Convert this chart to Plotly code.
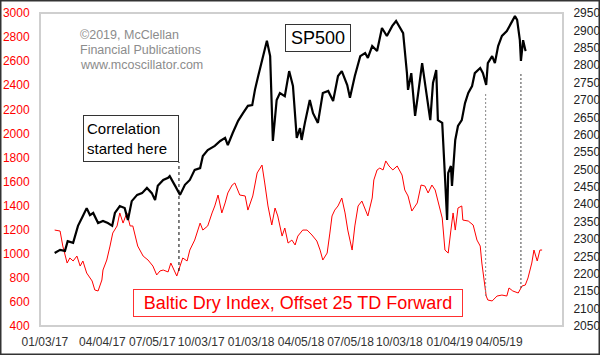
import plotly.graph_objects as go

# ---------------- data ----------------
sp_dates = ["2017-01-06","2017-01-16","2017-01-25","2017-01-30","2017-02-09","2017-02-18","2017-02-27","2017-03-06","2017-03-12","2017-03-18","2017-03-27","2017-04-05","2017-04-14","2017-04-22","2017-04-27","2017-05-06","2017-05-15","2017-05-21","2017-05-28","2017-06-07","2017-06-16","2017-06-25","2017-07-04","2017-07-10","2017-07-15","2017-07-25","2017-08-03","2017-08-06","2017-08-16","2017-08-25","2017-09-03","2017-09-12","2017-09-21","2017-10-01","2017-10-06","2017-10-15","2017-10-28","2017-11-07","2017-11-16","2017-11-21","2017-11-30","2017-12-10","2017-12-19","2017-12-28","2018-01-05","2018-01-10","2018-01-16","2018-01-25","2018-02-01","2018-02-07","2018-02-10","2018-02-12","2018-02-19","2018-02-25","2018-03-06","2018-03-14","2018-03-21","2018-03-28","2018-04-03","2018-04-06","2018-04-12","2018-04-21","2018-04-27","2018-05-06","2018-05-15","2018-05-25","2018-06-03","2018-06-12","2018-06-19","2018-06-29","2018-07-04","2018-07-13","2018-07-23","2018-08-01","2018-08-06","2018-08-14","2018-08-23","2018-09-01","2018-09-10","2018-09-20","2018-09-27","2018-10-04","2018-10-10","2018-10-17","2018-10-19","2018-10-25","2018-11-01","2018-11-06","2018-11-14","2018-11-21","2018-11-29","2018-12-04","2018-12-10","2018-12-13","2018-12-21","2018-12-26","2018-12-30","2019-01-01","2019-01-06","2019-01-08","2019-01-14","2019-01-19","2019-01-26","2019-02-01","2019-02-07","2019-02-14","2019-02-19","2019-03-01","2019-03-06","2019-03-12","2019-03-15","2019-03-23","2019-03-28","2019-04-03","2019-04-10","2019-04-19","2019-04-29","2019-05-04","2019-05-08","2019-05-13","2019-05-15","2019-05-19","2019-05-23","2019-05-24"]
sp_values = [2260,2269,2266,2294,2289,2338,2366,2389,2369,2375,2346,2352,2346,2338,2375,2395,2389,2355,2409,2427,2432,2447,2432,2412,2453,2470,2476,2481,2453,2427,2456,2470,2499,2504,2539,2556,2568,2582,2591,2570,2605,2640,2662,2683,2685,2729,2769,2826,2870,2826,2711,2582,2700,2720,2711,2783,2740,2591,2619,2585,2634,2700,2662,2634,2720,2726,2697,2769,2783,2743,2706,2769,2826,2835,2821,2855,2841,2907,2884,2913,2927,2907,2892,2777,2729,2777,2654,2711,2806,2729,2642,2749,2786,2642,2634,2481,2355,2490,2510,2453,2585,2625,2642,2691,2720,2740,2777,2792,2777,2743,2806,2826,2806,2855,2884,2898,2927,2941,2930,2872,2812,2872,2844,2841]

bdi_dates = ["2017-01-06","2017-01-16","2017-01-21","2017-01-29","2017-02-03","2017-02-09","2017-02-16","2017-02-22","2017-02-27","2017-03-06","2017-03-16","2017-03-21","2017-03-27","2017-04-03","2017-04-05","2017-04-12","2017-04-18","2017-04-23","2017-05-01","2017-05-06","2017-05-12","2017-05-19","2017-05-25","2017-05-30","2017-06-08","2017-06-18","2017-06-27","2017-07-06","2017-07-13","2017-07-19","2017-07-25","2017-08-03","2017-08-08","2017-08-14","2017-08-19","2017-08-25","2017-08-30","2017-09-07","2017-09-12","2017-09-21","2017-10-01","2017-10-06","2017-10-15","2017-10-23","2017-10-28","2017-11-03","2017-11-10","2017-11-16","2017-11-21","2017-11-29","2017-12-04","2017-12-13","2017-12-23","2017-12-28","2018-01-06","2018-01-14","2018-01-23","2018-01-28","2018-02-03","2018-02-10","2018-02-16","2018-02-21","2018-03-01","2018-03-06","2018-03-12","2018-03-19","2018-03-25","2018-03-30","2018-04-08","2018-04-16","2018-04-25","2018-05-04","2018-05-10","2018-05-15","2018-05-23","2018-05-28","2018-06-01","2018-06-06","2018-06-12","2018-06-19","2018-06-25","2018-06-30","2018-07-08","2018-07-13","2018-07-19","2018-07-26","2018-08-01","2018-08-06","2018-08-14","2018-08-17","2018-08-23","2018-08-28","2018-09-03","2018-09-08","2018-09-14","2018-09-21","2018-09-29","2018-10-08","2018-10-13","2018-10-19","2018-10-26","2018-11-05","2018-11-12","2018-11-19","2018-11-25","2018-12-02","2018-12-08","2018-12-13","2018-12-21","2018-12-26","2019-01-01","2019-01-06","2019-01-10","2019-01-14","2019-01-19","2019-01-26","2019-01-28","2019-02-07","2019-02-16","2019-02-23","2019-03-01","2019-03-04","2019-03-08","2019-03-12","2019-03-15","2019-03-23","2019-04-01","2019-04-10","2019-04-19","2019-04-23","2019-04-30","2019-05-10","2019-05-17","2019-05-23","2019-05-28","2019-06-04","2019-06-08","2019-06-14","2019-06-19","2019-06-23"]
bdi_values = [1197,1189,1064,923,965,940,981,898,940,840,774,699,691,782,865,948,1064,1172,1231,1339,1255,1339,1231,1231,1064,981,948,898,824,857,865,849,923,865,815,898,965,940,1031,1114,1255,1197,1231,1339,1397,1488,1339,1422,1505,1571,1588,1488,1480,1363,1480,1671,1737,1588,1397,1239,1380,1314,1147,1214,1089,1114,1073,1147,1197,1197,1156,1106,1031,948,1006,1172,1314,1363,1397,1463,1339,1197,1031,1231,1397,1438,1363,1314,1463,1613,1696,1712,1696,1771,1729,1696,1729,1654,1530,1480,1355,1422,1571,1563,1505,1571,1530,1447,1297,1031,1006,1197,1339,1197,1380,1397,1280,1272,1239,1114,1064,923,782,649,616,608,649,657,649,716,691,674,732,740,799,923,1031,940,1031,1031]

x_tick_vals = ["2016-12-19","2017-04-04","2017-07-05","2017-10-03","2018-01-03","2018-04-05","2018-07-05","2018-10-03","2019-01-04","2019-04-05"]
x_tick_text = ["01/03/17","04/04/17","07/05/17","10/03/17","01/03/18","04/05/18","07/05/18","10/03/18","01/04/19","04/05/19"]
left_ticks = list(range(400, 3001, 200))
right_ticks = list(range(2050, 2951, 50))

marker_dates = ["2017-08-23", "2019-03-11", "2019-05-15"]

FONT = "Liberation Sans, Arial, sans-serif"

# ---------------- figure ----------------
fig = go.Figure()
fig.add_trace(go.Scatter(x=bdi_dates, y=bdi_values, mode="lines",
                         line=dict(color="#ff0000", width=1), yaxis="y",
                         showlegend=False))
fig.add_trace(go.Scatter(x=sp_dates, y=sp_values, mode="lines",
                         line=dict(color="#000000", width=2.2), yaxis="y2",
                         showlegend=False))

W, H = 600, 355
L, R, T, B = 40, 37, 13, 29
pw, ph = W - L - R, H - T - B


def px(x):
    return (x - L) / pw


def py(y):
    return (H - B - y) / ph


fig.update_layout(
    width=W, height=H,
    margin=dict(l=L, r=R, t=T, b=B, autoexpand=False),
    paper_bgcolor="white", plot_bgcolor="white",
    font=dict(family=FONT, size=12, color="#333"),
    xaxis=dict(type="date", range=["2016-12-10", "2019-07-31 12:00"],
               tickmode="array", tickvals=x_tick_vals, ticktext=x_tick_text,
               tickangle=0, automargin=False,
               showgrid=False, zeroline=False, showline=False,
               ticks="outside", ticklen=5, tickcolor="rgba(0,0,0,0)",
               tickfont=dict(size=12, color="#333", family=FONT)),
    yaxis=dict(range=[400, 3000], tickmode="array", tickvals=left_ticks,
               automargin=False,
               showgrid=False, zeroline=False, showline=False,
               ticks="outside", ticklen=7, tickcolor="rgba(0,0,0,0)",
               tickfont=dict(size=12, color="#ff0000", family=FONT)),
    yaxis2=dict(range=[2050, 2950], tickmode="array", tickvals=right_ticks,
                overlaying="y", side="right", automargin=False,
                showgrid=False, zeroline=False, showline=False,
                ticks="outside", ticklen=7, tickcolor="rgba(0,0,0,0)",
                tickfont=dict(size=12, color="#222", family=FONT)),
)

shapes = []
# plot-area border
shapes.append(dict(type="rect", xref="paper", yref="paper", x0=0, x1=1, y0=0, y1=1,
                   line=dict(color="#cfcfcf", width=2), layer="above"))
# outer image frame
shapes.append(dict(type="rect", xref="paper", yref="paper",
                   x0=px(0.75), x1=px(W - 0.75), y0=py(H - 0.75), y1=py(0.75),
                   line=dict(color="#333", width=1.5), layer="above"))
# marker lines
shapes.append(dict(type="line", xref="x", yref="paper", x0=marker_dates[0], x1=marker_dates[0],
                   y0=py(271), y1=py(162), line=dict(color="#000", width=1, dash="3px,3px")))
shapes.append(dict(type="line", xref="x", yref="paper", x0=marker_dates[1], x1=marker_dates[1],
                   y0=py(296), y1=py(93), line=dict(color="#888", width=1, dash="2px,2px")))
shapes.append(dict(type="line", xref="x", yref="paper", x0=marker_dates[2], x1=marker_dates[2],
                   y0=py(288), y1=py(73), line=dict(color="#444", width=1, dash="2px,2px")))
fig.update_layout(shapes=shapes)

ann = []
for txt, yy in [("©2019, McClellan", 35), ("Financial Publications", 50), ("www.mcoscillator.com", 65)]:
    ann.append(dict(xref="paper", yref="paper", x=px(78), y=py(yy), xanchor="left", yanchor="middle",
                    text=txt, showarrow=False, font=dict(size=12.5, color="#8c8c8c", family=FONT)))
ann.append(dict(xref="paper", yref="paper", x=px(318), y=py(38), xanchor="center", yanchor="middle",
                text="SP500", showarrow=False, font=dict(size=18, color="#000", family=FONT),
                bgcolor="white", bordercolor="#333", borderwidth=1, borderpad=2, width=60, height=22))
ann.append(dict(xref="paper", yref="paper", x=px(131), y=py(138.5), xanchor="center", yanchor="middle",
                text="Correlation<br>started here", align="left", showarrow=False,
                font=dict(size=15, color="#000", family=FONT),
                bgcolor="white", bordercolor="#333", borderwidth=1, borderpad=3, width=88, height=39))
ann.append(dict(xref="paper", yref="paper", x=px(298), y=py(303), xanchor="center", yanchor="middle",
                text="Baltic Dry Index, Offset 25 TD Forward", showarrow=False,
                font=dict(size=18, color="#ff0000", family=FONT),
                bgcolor="white", bordercolor="#ff3030", borderwidth=1, borderpad=2, width=324, height=22))
fig.update_layout(annotations=ann)

fig.write_html("out.html", config={"displayModeBar": False},
               post_script="document.body.style.margin='0px';document.body.style.overflow='hidden';")
